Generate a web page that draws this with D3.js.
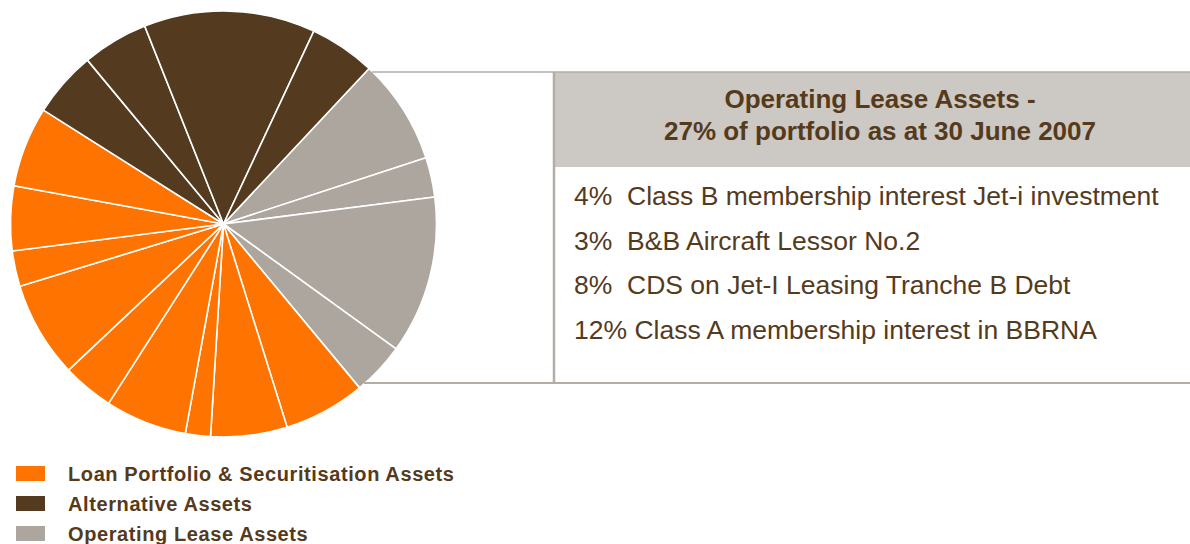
<!DOCTYPE html>
<html>
<head>
<meta charset="utf-8">
<script src="https://cdn.jsdelivr.net/npm/d3@7"></script>
<style>
  html, body { margin: 0; padding: 0; background: #fff; }
  svg { display: block; font-family: "Liberation Sans", Arial, sans-serif; }
</style>
</head>
<body>
<div id="chart"></div>
<script>
// slice shares (%), clockwise starting at the first operating lease slice
const groups = ['Loan Portfolio & Securitisation Assets', 'Alternative Assets', 'Operating Lease Assets'];
const leaseSlices = [8, 3, 12, 4];
const loanSlices = [6.2, 5.8, 1.9, 6.2, 3.9, 7.3, 2.7, 4.9, 6.1];
const altSlices = [5.0, 5.0, 13.0, 5.0];
const groupColors = ['#ff7300', '#543a1e', '#ada69f'];

const boxTitle = ['Operating Lease Assets -', '27% of portfolio as at 30 June 2007'];
const boxItems = [
  '4%  Class B membership interest Jet-i investment',
  '3%  B&B Aircraft Lessor No.2',
  '8%  CDS on Jet-I Leasing Tranche B Debt',
  '12% Class A membership interest in BBRNA'
];

const width = 1190;
const height = 544;
const textColor = '#553a1c';

const slices = []
  .concat(leaseSlices.map(v => ({ group: 2, value: v })))
  .concat(loanSlices.map(v => ({ group: 0, value: v })))
  .concat(altSlices.map(v => ({ group: 1, value: v })));

const svg = d3.select('#chart').append('svg')
  .attr('width', width)
  .attr('height', height);

// pie
const cx = 223.5, cy = 224, r = 213;
const start = 43.1 * Math.PI / 180;
const pie = d3.pie().value(d => d.value).sort(null)
  .startAngle(start).endAngle(start + 2 * Math.PI);
const arc = d3.arc().innerRadius(0).outerRadius(r);

svg.append('g')
  .attr('transform', `translate(${cx},${cy})`)
  .selectAll('path')
  .data(pie(slices))
  .join('path')
  .attr('d', arc)
  .attr('fill', d => groupColors[d.data.group])
  .attr('stroke', '#fff')
  .attr('stroke-width', 1.6)
  .attr('stroke-linejoin', 'round');

// callout box
const boxLeft = 553, boxTop = 72, headBottom = 167, boxBottom = 383;
const lineColor = '#b3ada6';

svg.append('rect')
  .attr('x', boxLeft).attr('y', boxTop)
  .attr('width', width - boxLeft).attr('height', headBottom - boxTop)
  .attr('fill', '#ccc8c3');

svg.append('line')
  .attr('x1', 372).attr('x2', width).attr('y1', boxTop).attr('y2', boxTop)
  .attr('stroke', lineColor).attr('stroke-width', 1.5);
svg.append('line')
  .attr('x1', 364).attr('x2', width).attr('y1', boxBottom).attr('y2', boxBottom)
  .attr('stroke', lineColor).attr('stroke-width', 2);
svg.append('line')
  .attr('x1', boxLeft + 1).attr('x2', boxLeft + 1).attr('y1', boxTop).attr('y2', boxBottom + 1)
  .attr('stroke', lineColor).attr('stroke-width', 2.5);

svg.append('g')
  .selectAll('text')
  .data(boxTitle)
  .join('text')
  .attr('x', 880)
  .attr('y', (d, i) => 108 + i * 32)
  .attr('text-anchor', 'middle')
  .attr('font-size', 26)
  .attr('font-weight', 'bold')
  .attr('fill', textColor)
  .text(d => d);

svg.append('g')
  .selectAll('text')
  .data(boxItems)
  .join('text')
  .attr('x', 574)
  .attr('y', (d, i) => 205 + i * 44.5)
  .attr('font-size', 26.5)
  .attr('fill', textColor)
  .attr('xml:space', 'preserve')
  .style('white-space', 'pre')
  .text(d => d);

// legend
const legend = svg.append('g')
  .selectAll('g')
  .data(groups)
  .join('g')
  .attr('transform', (d, i) => `translate(16,${466 + i * 30})`);

legend.append('rect')
  .attr('width', 29).attr('height', 15)
  .attr('fill', (d, i) => groupColors[i]);

legend.append('text')
  .attr('x', 52).attr('y', 15)
  .attr('font-size', 20)
  .attr('font-weight', 'bold')
  .attr('letter-spacing', 0.6)
  .attr('fill', textColor)
  .text(d => d);
</script>
</body>
</html>
